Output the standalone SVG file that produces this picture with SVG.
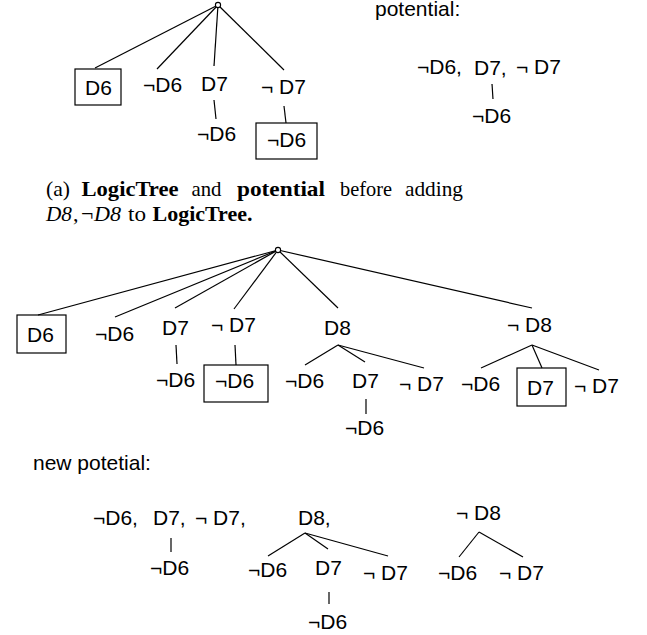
<svg xmlns="http://www.w3.org/2000/svg" width="647" height="635" viewBox="0 0 647 635">
  <style>
    .t { font-family: "Liberation Sans", Arial, sans-serif; font-size: 21px; fill: #000; }
    .c { font-family: "Liberation Serif", "Times New Roman", serif; font-size: 22px; fill: #000; }
    .b { font-weight: bold; }
    .i { font-style: italic; }
    .e { stroke: #000; stroke-width: 1.2; fill: none; }
    .box { stroke: #000; stroke-width: 1.2; fill: none; }
    .root { stroke: #000; stroke-width: 1.1; fill: #fff; }
  </style>

  <!-- connectors -->
  <g id="connectors" class="e">
    <!-- first tree -->
    <line x1="218" y1="5" x2="95" y2="68"/>
    <line x1="218" y1="5" x2="157" y2="69"/>
    <line x1="218" y1="5" x2="214" y2="66"/>
    <line x1="218" y1="5" x2="284" y2="70"/>
    <line x1="214" y1="100" x2="216" y2="119"/>
    <line x1="284" y1="106" x2="286" y2="123"/>
    <!-- first potential -->
    <line x1="492" y1="84" x2="493" y2="99"/>
    <!-- second tree -->
    <line x1="278" y1="250" x2="38" y2="315"/>
    <line x1="278" y1="250" x2="115" y2="317"/>
    <line x1="278" y1="250" x2="175" y2="308"/>
    <line x1="278" y1="250" x2="234" y2="309"/>
    <line x1="278" y1="250" x2="338" y2="308"/>
    <line x1="278" y1="250" x2="532" y2="308"/>
    <line x1="176" y1="345" x2="177" y2="364"/>
    <line x1="235" y1="345" x2="236" y2="365"/>
    <line x1="338" y1="345" x2="305" y2="365"/>
    <line x1="338" y1="345" x2="365" y2="362"/>
    <line x1="338" y1="345" x2="424" y2="368"/>
    <line x1="366" y1="399" x2="366" y2="414"/>
    <line x1="532" y1="345" x2="481" y2="368"/>
    <line x1="532" y1="345" x2="542" y2="368"/>
    <line x1="532" y1="345" x2="599" y2="370"/>
    <!-- new potential -->
    <line x1="171" y1="538" x2="171" y2="552"/>
    <line x1="305" y1="533" x2="268" y2="556"/>
    <line x1="305" y1="533" x2="328" y2="549"/>
    <line x1="305" y1="533" x2="388" y2="556"/>
    <line x1="329" y1="592" x2="329" y2="604"/>
    <line x1="479" y1="532" x2="459" y2="557"/>
    <line x1="479" y1="532" x2="523" y2="557"/>
  </g>

  <!-- first LogicTree -->
  <g id="root1"><circle class="root" cx="218" cy="5" r="2.6"/></g>
  <g id="t1-d6"><rect class="box" x="75" y="69" width="46" height="36"/><text class="t" x="85" y="95">D6</text></g>
  <g id="t1-nd6"><text class="t" x="143" y="92">¬D6</text></g>
  <g id="t1-d7"><text class="t" x="201" y="91">D7</text></g>
  <g id="t1-nd7"><text class="t" x="261" y="94">¬ D7</text></g>
  <g id="t1-d7-nd6"><text class="t" x="197" y="141">¬D6</text></g>
  <g id="t1-nd7-nd6"><rect class="box" x="256" y="123" width="61" height="36"/><text class="t" x="267" y="147">¬D6</text></g>

  <!-- first potential -->
  <g id="p1-label"><text class="t" x="375" y="16">potential:</text></g>
  <g id="p1-row"><text class="t" x="417" y="74">¬D6,</text><text class="t" x="474" y="75">D7,</text><text class="t" x="516" y="74">¬ D7</text></g>
  <g id="p1-nd6"><text class="t" x="472" y="123">¬D6</text></g>

  <!-- caption, set word by word to keep the justified spacing -->
  <g id="caption" class="c">
    <text x="46" y="196" textLength="24" lengthAdjust="spacingAndGlyphs">(a)</text>
    <text class="b" x="81.5" y="196" textLength="97" lengthAdjust="spacingAndGlyphs">LogicTree</text>
    <text x="191.5" y="196" textLength="30" lengthAdjust="spacingAndGlyphs">and</text>
    <text class="b" x="237" y="196" textLength="88" lengthAdjust="spacingAndGlyphs">potential</text>
    <text x="340" y="196" textLength="52" lengthAdjust="spacingAndGlyphs">before</text>
    <text x="405" y="196" textLength="58" lengthAdjust="spacingAndGlyphs">adding</text>
    <text class="i" x="46" y="221" textLength="26" lengthAdjust="spacingAndGlyphs">D8</text>
    <text x="73" y="221">,</text>
    <text x="81" y="221">¬</text>
    <text class="i" x="94" y="221" textLength="27" lengthAdjust="spacingAndGlyphs">D8</text>
    <text x="128" y="221" textLength="18" lengthAdjust="spacingAndGlyphs">to</text>
    <text class="b" x="152.5" y="221" textLength="100" lengthAdjust="spacingAndGlyphs">LogicTree.</text>
  </g>

  <!-- second LogicTree -->
  <g id="root2"><circle class="root" cx="278" cy="250" r="2.6"/></g>
  <g id="t2-d6"><rect class="box" x="17" y="315" width="49" height="38"/><text class="t" x="27" y="342">D6</text></g>
  <g id="t2-nd6"><text class="t" x="95" y="341">¬D6</text></g>
  <g id="t2-d7"><text class="t" x="162" y="335">D7</text></g>
  <g id="t2-nd7"><text class="t" x="211" y="332">¬ D7</text></g>
  <g id="t2-d8"><text class="t" x="324" y="335">D8</text></g>
  <g id="t2-nd8"><text class="t" x="507" y="332">¬ D8</text></g>
  <g id="t2-d7-nd6"><text class="t" x="156" y="387">¬D6</text></g>
  <g id="t2-nd7-nd6"><rect class="box" x="204" y="365" width="64" height="37"/><text class="t" x="215" y="388">¬D6</text></g>
  <g id="t2-d8-nd6"><text class="t" x="285" y="388">¬D6</text></g>
  <g id="t2-d8-d7"><text class="t" x="352" y="388">D7</text></g>
  <g id="t2-d8-nd7"><text class="t" x="399" y="391">¬ D7</text></g>
  <g id="t2-d8-d7-nd6"><text class="t" x="345" y="435">¬D6</text></g>
  <g id="t2-nd8-nd6"><text class="t" x="461" y="391">¬D6</text></g>
  <g id="t2-nd8-d7"><rect class="box" x="517" y="368" width="49" height="38"/><text class="t" x="527" y="395">D7</text></g>
  <g id="t2-nd8-nd7"><text class="t" x="574" y="393">¬ D7</text></g>

  <!-- new potential -->
  <g id="p2-label"><text class="t" x="33" y="470">new potetial:</text></g>
  <g id="p2-row"><text class="t" x="93" y="525">¬D6,</text><text class="t" x="153" y="525">D7,</text><text class="t" x="195" y="525">¬ D7,</text></g>
  <g id="p2-d7-nd6"><text class="t" x="150" y="575">¬D6</text></g>
  <g id="p2-d8"><text class="t" x="298" y="525">D8,</text></g>
  <g id="p2-d8-nd6"><text class="t" x="248" y="577">¬D6</text></g>
  <g id="p2-d8-d7"><text class="t" x="315" y="575">D7</text></g>
  <g id="p2-d8-nd7"><text class="t" x="363" y="580">¬ D7</text></g>
  <g id="p2-d8-d7-nd6"><text class="t" x="308" y="629">¬D6</text></g>
  <g id="p2-nd8"><text class="t" x="456" y="520">¬ D8</text></g>
  <g id="p2-nd8-nd6"><text class="t" x="438" y="580">¬D6</text></g>
  <g id="p2-nd8-nd7"><text class="t" x="499" y="580">¬ D7</text></g>
</svg>
